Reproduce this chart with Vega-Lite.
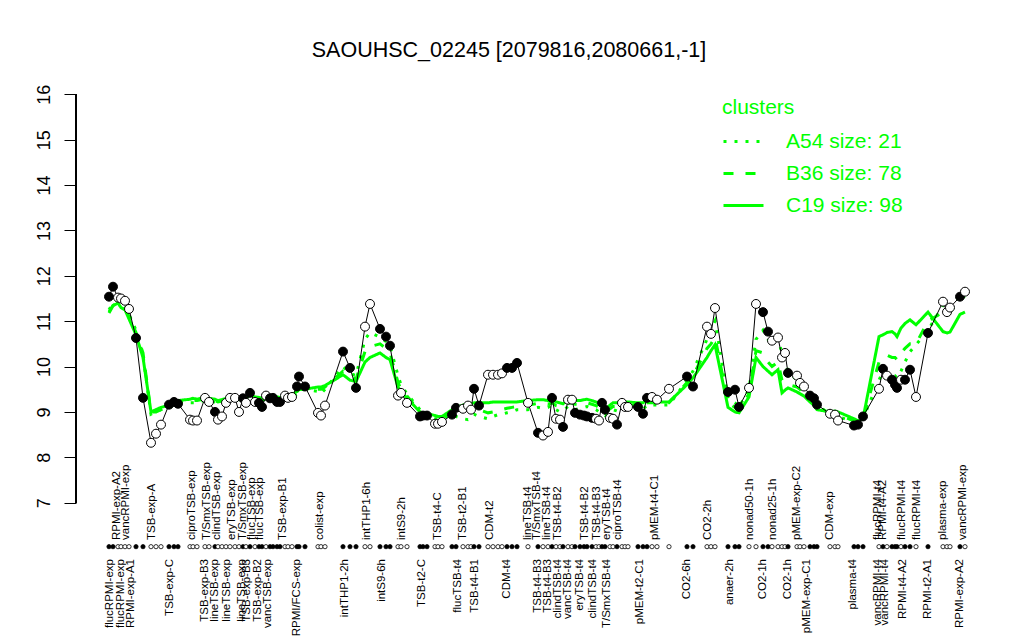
{
"$schema": "https://vega.github.io/schema/vega-lite/v6.json",
"width": 924, "height": 441,
"autosize": {"type": "none"},
"padding": {"left": 76, "top": 78, "right": 24, "bottom": 121},
"background": "white",
"config": {"view": {"stroke": null}, "font": "Liberation Sans"},
"title": {"text": "SAOUHSC_02245 [2079816,2080661,-1]", "fontSize": 21.5, "fontWeight": "normal", "font": "Liberation Sans", "color": "black", "anchor": "middle", "frame": "group", "dx": -29, "offset": 17},
"datasets": {
"samples": [
{"s":9,"v":11.54,"f":"F","a":11.25,"b":11.2,"c":11.18},
{"s":13,"v":11.76,"f":"F","a":11.4,"b":11.35,"c":11.34},
{"s":18,"v":11.52,"f":"O","a":11.45,"b":11.4,"c":11.4},
{"s":21,"v":11.5,"f":"O","a":11.4,"b":11.35,"c":11.3},
{"s":25,"v":11.45,"f":"O","a":11.3,"b":11.3,"c":11.25},
{"s":29,"v":11.27,"f":"O","a":11.15,"b":11.1,"c":11.05},
{"s":36,"v":10.63,"f":"F","a":10.8,"b":10.75,"c":10.7},
{"s":43,"v":9.31,"f":"F","a":10.25,"b":10.3,"c":10.2},
{"s":51,"v":8.32,"f":"O","a":8.95,"b":9.0,"c":9.0},
{"s":56,"v":8.52,"f":"O","a":9.0,"b":9.0,"c":9.05},
{"s":61,"v":8.72,"f":"O","a":9.05,"b":9.05,"c":9.1},
{"s":69,"v":9.16,"f":"F","a":9.1,"b":9.15,"c":9.15},
{"s":74,"v":9.22,"f":"F","a":9.15,"b":9.2,"c":9.2},
{"s":78,"v":9.18,"f":"F","a":9.2,"b":9.2,"c":9.25},
{"s":90,"v":8.83,"f":"O","a":9.2,"b":9.25,"c":9.28},
{"s":93,"v":8.81,"f":"O","a":9.2,"b":9.25,"c":9.3},
{"s":97,"v":8.81,"f":"O","a":9.2,"b":9.25,"c":9.28},
{"s":105,"v":9.31,"f":"O","a":9.26,"b":9.29,"c":9.32},
{"s":109,"v":9.22,"f":"O","a":9.24,"b":9.27,"c":9.3},
{"s":115,"v":9.0,"f":"F","a":9.22,"b":9.25,"c":9.28},
{"s":118,"v":8.83,"f":"O","a":9.19,"b":9.22,"c":9.25},
{"s":122,"v":8.9,"f":"O","a":9.21,"b":9.24,"c":9.27},
{"s":126,"v":9.2,"f":"O","a":9.24,"b":9.27,"c":9.3},
{"s":130,"v":9.31,"f":"O","a":9.27,"b":9.3,"c":9.33},
{"s":135,"v":9.31,"f":"O","a":9.29,"b":9.32,"c":9.35},
{"s":139,"v":9.0,"f":"O","a":9.24,"b":9.27,"c":9.3},
{"s":143,"v":9.3,"f":"F","a":9.27,"b":9.3,"c":9.33},
{"s":146,"v":9.2,"f":"O","a":9.24,"b":9.27,"c":9.3},
{"s":150,"v":9.42,"f":"F","a":9.32,"b":9.35,"c":9.38},
{"s":155,"v":9.22,"f":"O","a":9.27,"b":9.3,"c":9.33},
{"s":159,"v":9.2,"f":"F","a":9.26,"b":9.29,"c":9.32},
{"s":162,"v":9.11,"f":"F","a":9.24,"b":9.27,"c":9.3},
{"s":166,"v":9.36,"f":"O","a":9.3,"b":9.33,"c":9.36},
{"s":170,"v":9.3,"f":"F","a":9.29,"b":9.32,"c":9.35},
{"s":173,"v":9.31,"f":"F","a":9.29,"b":9.32,"c":9.35},
{"s":177,"v":9.22,"f":"F","a":9.27,"b":9.3,"c":9.33},
{"s":180,"v":9.22,"f":"F","a":9.26,"b":9.29,"c":9.32},
{"s":185,"v":9.36,"f":"O","a":9.29,"b":9.32,"c":9.35},
{"s":188,"v":9.31,"f":"O","a":9.29,"b":9.32,"c":9.35},
{"s":192,"v":9.33,"f":"O","a":9.32,"b":9.35,"c":9.38},
{"s":197,"v":9.56,"f":"F","a":9.4,"b":9.45,"c":9.45},
{"s":199,"v":9.78,"f":"F","a":9.45,"b":9.5,"c":9.5},
{"s":205,"v":9.56,"f":"F","a":9.5,"b":9.5,"c":9.5},
{"s":218,"v":8.98,"f":"O","a":9.45,"b":9.5,"c":9.55},
{"s":221,"v":8.92,"f":"O","a":9.4,"b":9.5,"c":9.55},
{"s":225,"v":9.14,"f":"O","a":9.5,"b":9.55,"c":9.58},
{"s":243,"v":10.33,"f":"F","a":10.0,"b":9.9,"c":9.82},
{"s":250,"v":9.97,"f":"F","a":9.85,"b":9.8,"c":9.7},
{"s":256,"v":9.53,"f":"F","a":9.8,"b":9.72,"c":9.67},
{"s":265,"v":10.88,"f":"O","a":10.6,"b":10.33,"c":10.1},
{"s":270,"v":11.38,"f":"O","a":10.75,"b":10.44,"c":10.2},
{"s":280,"v":10.83,"f":"F","a":10.65,"b":10.5,"c":10.3},
{"s":286,"v":10.66,"f":"F","a":10.55,"b":10.4,"c":10.2},
{"s":290,"v":10.46,"f":"F","a":10.45,"b":10.3,"c":10.15},
{"s":298,"v":9.36,"f":"O","a":9.8,"b":9.65,"c":9.55},
{"s":301,"v":9.42,"f":"O","a":9.6,"b":9.5,"c":9.45},
{"s":307,"v":9.2,"f":"O","a":9.4,"b":9.35,"c":9.3},
{"s":320,"v":8.9,"f":"F","a":9.05,"b":9.0,"c":9.0},
{"s":323,"v":8.92,"f":"F","a":8.9,"b":8.95,"c":8.98},
{"s":327,"v":8.92,"f":"F","a":8.9,"b":8.95,"c":8.97},
{"s":335,"v":8.74,"f":"O","a":8.85,"b":8.9,"c":8.92},
{"s":338,"v":8.74,"f":"O","a":8.85,"b":8.88,"c":8.9},
{"s":342,"v":8.78,"f":"O","a":8.85,"b":8.88,"c":8.9},
{"s":352,"v":8.94,"f":"F","a":8.95,"b":9.0,"c":9.05},
{"s":356,"v":9.09,"f":"F","a":8.9,"b":9.05,"c":9.1},
{"s":363,"v":9.07,"f":"O","a":8.85,"b":9.08,"c":9.15},
{"s":368,"v":9.14,"f":"O","a":8.83,"b":9.1,"c":9.18},
{"s":371,"v":9.05,"f":"O","a":8.85,"b":9.1,"c":9.18},
{"s":374,"v":9.51,"f":"F","a":8.95,"b":9.1,"c":9.2},
{"s":379,"v":9.14,"f":"F","a":8.9,"b":9.05,"c":9.2},
{"s":388,"v":9.82,"f":"O","a":8.85,"b":8.98,"c":9.2},
{"s":393,"v":9.82,"f":"O","a":8.9,"b":9.0,"c":9.22},
{"s":398,"v":9.82,"f":"O","a":8.94,"b":9.02,"c":9.22},
{"s":402,"v":9.85,"f":"O","a":8.95,"b":9.05,"c":9.22},
{"s":407,"v":9.97,"f":"F","a":8.98,"b":9.08,"c":9.22},
{"s":412,"v":9.97,"f":"F","a":9.0,"b":9.1,"c":9.22},
{"s":417,"v":10.08,"f":"F","a":9.05,"b":9.12,"c":9.22},
{"s":428,"v":9.2,"f":"O","a":9.05,"b":9.15,"c":9.25},
{"s":438,"v":8.54,"f":"F","a":9.1,"b":9.19,"c":9.27},
{"s":443,"v":8.48,"f":"O","a":9.08,"b":9.19,"c":9.27},
{"s":448,"v":8.56,"f":"O","a":9.1,"b":9.17,"c":9.25},
{"s":452,"v":9.31,"f":"F","a":9.15,"b":9.2,"c":9.28},
{"s":456,"v":8.85,"f":"O","a":9.05,"b":9.14,"c":9.22},
{"s":460,"v":8.83,"f":"O","a":9.0,"b":9.12,"c":9.2},
{"s":463,"v":8.67,"f":"F","a":9.02,"b":9.1,"c":9.18},
{"s":468,"v":9.27,"f":"O","a":9.12,"b":9.19,"c":9.27},
{"s":472,"v":9.27,"f":"O","a":9.1,"b":9.2,"c":9.28},
{"s":475,"v":8.98,"f":"F","a":9.05,"b":9.17,"c":9.25},
{"s":480,"v":8.94,"f":"F","a":9.08,"b":9.17,"c":9.25},
{"s":484,"v":8.92,"f":"F","a":9.1,"b":9.19,"c":9.27},
{"s":487,"v":8.9,"f":"F","a":9.12,"b":9.2,"c":9.28},
{"s":492,"v":8.87,"f":"F","a":9.08,"b":9.17,"c":9.25},
{"s":496,"v":8.85,"f":"O","a":9.05,"b":9.14,"c":9.22},
{"s":499,"v":8.81,"f":"O","a":9.0,"b":9.1,"c":9.18},
{"s":502,"v":9.2,"f":"F","a":8.98,"b":9.04,"c":9.12},
{"s":505,"v":9.05,"f":"F","a":8.92,"b":8.97,"c":9.05},
{"s":510,"v":8.87,"f":"O","a":9.0,"b":9.07,"c":9.15},
{"s":513,"v":8.85,"f":"O","a":9.05,"b":9.12,"c":9.2},
{"s":517,"v":8.72,"f":"F","a":9.02,"b":9.12,"c":9.2},
{"s":522,"v":9.2,"f":"O","a":9.1,"b":9.17,"c":9.25},
{"s":525,"v":9.11,"f":"O","a":9.08,"b":9.14,"c":9.22},
{"s":528,"v":9.11,"f":"O","a":9.05,"b":9.14,"c":9.22},
{"s":538,"v":9.11,"f":"F","a":9.1,"b":9.15,"c":9.2},
{"s":543,"v":8.96,"f":"F","a":9.05,"b":9.12,"c":9.2},
{"s":547,"v":9.31,"f":"F","a":9.15,"b":9.2,"c":9.27},
{"s":552,"v":9.33,"f":"O","a":9.15,"b":9.2,"c":9.25},
{"s":557,"v":9.27,"f":"O","a":9.15,"b":9.2,"c":9.22},
{"s":569,"v":9.51,"f":"O","a":9.15,"b":9.2,"c":9.22},
{"s":587,"v":9.78,"f":"F","a":9.7,"b":9.65,"c":9.6},
{"s":593,"v":9.56,"f":"F","a":9.9,"b":9.8,"c":9.75},
{"s":607,"v":10.88,"f":"O","a":10.6,"b":10.4,"c":10.2},
{"s":611,"v":10.72,"f":"O","a":10.8,"b":10.5,"c":10.35},
{"s":615,"v":11.29,"f":"O","a":11.0,"b":10.65,"c":10.48},
{"s":628,"v":9.44,"f":"F","a":9.3,"b":9.2,"c":9.1},
{"s":635,"v":9.49,"f":"F","a":9.2,"b":9.1,"c":9.0},
{"s":639,"v":9.11,"f":"F","a":9.1,"b":9.05,"c":8.98},
{"s":649,"v":9.53,"f":"O","a":9.5,"b":9.4,"c":9.33},
{"s":656,"v":11.38,"f":"O","a":10.6,"b":10.35,"c":10.2},
{"s":663,"v":11.2,"f":"F","a":10.8,"b":10.3,"c":10.0},
{"s":668,"v":10.77,"f":"F","a":10.6,"b":10.1,"c":9.9},
{"s":672,"v":10.57,"f":"O","a":10.5,"b":10.0,"c":9.82},
{"s":678,"v":10.64,"f":"O","a":10.6,"b":10.1,"c":9.93},
{"s":682,"v":10.2,"f":"O","a":10.3,"b":9.7,"c":9.42},
{"s":685,"v":10.3,"f":"O","a":10.1,"b":9.65,"c":9.48},
{"s":688,"v":9.86,"f":"F","a":9.9,"b":9.6,"c":9.53},
{"s":697,"v":9.8,"f":"O","a":9.7,"b":9.55,"c":9.44},
{"s":700,"v":9.64,"f":"O","a":9.6,"b":9.5,"c":9.4},
{"s":704,"v":9.56,"f":"O","a":9.5,"b":9.4,"c":9.35},
{"s":710,"v":9.36,"f":"F","a":9.35,"b":9.3,"c":9.22},
{"s":714,"v":9.3,"f":"F","a":9.25,"b":9.2,"c":9.15},
{"s":717,"v":9.16,"f":"F","a":9.15,"b":9.1,"c":9.05},
{"s":730,"v":8.96,"f":"O","a":8.95,"b":9.0,"c":9.0},
{"s":735,"v":8.94,"f":"O","a":8.95,"b":9.0,"c":9.02},
{"s":738,"v":8.81,"f":"O","a":8.9,"b":8.95,"c":9.0},
{"s":754,"v":8.7,"f":"F","a":8.78,"b":8.8,"c":8.85},
{"s":758,"v":8.72,"f":"F","a":8.75,"b":8.78,"c":8.8},
{"s":763,"v":8.9,"f":"F","a":8.85,"b":8.85,"c":8.85},
{"s":779,"v":9.51,"f":"O","a":9.7,"b":10.1,"c":10.66},
{"s":783,"v":9.95,"f":"F","a":9.9,"b":10.2,"c":10.7},
{"s":787,"v":9.8,"f":"O","a":9.85,"b":10.25,"c":10.75},
{"s":792,"v":9.71,"f":"F","a":9.8,"b":10.2,"c":10.77},
{"s":795,"v":9.6,"f":"F","a":9.8,"b":10.2,"c":10.72},
{"s":797,"v":9.53,"f":"F","a":9.75,"b":10.15,"c":10.66},
{"s":801,"v":9.71,"f":"O","a":9.9,"b":10.3,"c":10.85},
{"s":805,"v":9.71,"f":"F","a":10.1,"b":10.4,"c":10.95},
{"s":810,"v":9.93,"f":"F","a":10.33,"b":10.5,"c":11.03},
{"s":816,"v":9.33,"f":"O","a":10.48,"b":10.5,"c":10.92},
{"s":828,"v":10.74,"f":"F","a":10.8,"b":11.0,"c":11.2},
{"s":843,"v":11.43,"f":"O","a":11.35,"b":11.2,"c":10.77},
{"s":847,"v":11.2,"f":"O","a":11.25,"b":11.1,"c":10.74},
{"s":850,"v":11.3,"f":"O","a":11.3,"b":11.2,"c":10.76},
{"s":860,"v":11.54,"f":"F","a":11.55,"b":11.5,"c":11.15},
{"s":865,"v":11.65,"f":"O","a":11.6,"b":11.55,"c":11.2}
],
"labs": [
{"s":17,"t":"RPMI-exp-A2","r":"t"},{"s":26,"t":"vancRPMI-exp","r":"t"},{"s":52,"t":"TSB-exp-A","r":"t"},{"s":92,"t":"ciproTSB-exp","r":"t"},{"s":107,"t":"T/SmxTSB-exp","r":"t"},{"s":117,"t":"clindTSB-exp","r":"t"},{"s":132,"t":"eryTSB-exp","r":"t"},{"s":143,"t":"T/SmxTSB-exp","r":"t"},{"s":152,"t":"flucTSB-exp","r":"t"},{"s":160,"t":"flucTSB-exp","r":"t"},{"s":183,"t":"TSB-exp-B1","r":"t"},{"s":220,"t":"colist-exp","r":"t"},{"s":267,"t":"intTHP1-6h","r":"t"},{"s":302,"t":"intS9-2h","r":"t"},{"s":338,"t":"TSB-t4-C","r":"t"},{"s":363,"t":"TSB-t2-B1","r":"t"},{"s":390,"t":"CDM-t2","r":"t"},{"s":428,"t":"lineTSB-t4","r":"t"},{"s":437,"t":"T/SmxTSB-t4","r":"t"},{"s":447,"t":"lineTSB-t4","r":"t"},{"s":458,"t":"TSB-t4-B2","r":"t"},{"s":485,"t":"TSB-t4-B2","r":"t"},{"s":497,"t":"TSB-t4-B3","r":"t"},{"s":507,"t":"eryTSB-t4","r":"t"},{"s":518,"t":"ciproTSB-t4","r":"t"},{"s":555,"t":"pMEM-t4-C1","r":"t"},{"s":608,"t":"CO2-2h","r":"t"},{"s":650,"t":"nonad50-1h","r":"t"},{"s":673,"t":"nonad25-1h","r":"t"},{"s":697,"t":"pMEM-exp-C2","r":"t"},{"s":730,"t":"CDM-exp","r":"t"},{"s":778,"t":"flucRPMI-t4","r":"t"},{"s":783,"t":"RPMI-t4-A2","r":"t"},{"s":802,"t":"flucRPMI-t4","r":"t"},{"s":817,"t":"flucRPMI-t4","r":"t"},{"s":843,"t":"plasma-exp","r":"t"},{"s":863,"t":"vancRPMI-exp","r":"t"},
{"s":10,"t":"flucRPMI-exp","r":"b"},{"s":21,"t":"flucRPMI-exp","r":"b"},{"s":31,"t":"RPMI-exp-A1","r":"b"},{"s":70,"t":"TSB-exp-C","r":"b"},{"s":105,"t":"TSB-exp-B3","r":"b"},{"s":115,"t":"lineTSB-exp","r":"b"},{"s":127,"t":"lineTSB-exp","r":"b"},{"s":142,"t":"lineTSB-exp","r":"b"},{"s":147,"t":"TSB-exp-B3","r":"b"},{"s":158,"t":"TSB-exp-B2","r":"b"},{"s":168,"t":"vancTSB-exp","r":"b"},{"s":197,"t":"RPMI/FCS-exp","r":"b"},{"s":245,"t":"intTHP1-2h","r":"b"},{"s":282,"t":"intS9-6h","r":"b"},{"s":322,"t":"TSB-t2-C","r":"b"},{"s":358,"t":"flucTSB-t4","r":"b"},{"s":375,"t":"TSB-t4-B1","r":"b"},{"s":407,"t":"CDM-t4","r":"b"},{"s":438,"t":"TSB-t4-B3","r":"b"},{"s":448,"t":"TSB-t4-B3","r":"b"},{"s":458,"t":"clindTSB-t4","r":"b"},{"s":468,"t":"vancTSB-t4","r":"b"},{"s":480,"t":"eryTSB-t4","r":"b"},{"s":493,"t":"clindTSB-t4","r":"b"},{"s":507,"t":"T/SmxTSB-t4","r":"b"},{"s":540,"t":"pMEM-t2-C1","r":"b"},{"s":587,"t":"CO2-6h","r":"b"},{"s":630,"t":"anaer-2h","r":"b"},{"s":663,"t":"CO2-1h","r":"b"},{"s":688,"t":"CO2-1h","r":"b"},{"s":707,"t":"pMEM-exp-C1","r":"b"},{"s":753,"t":"plasma-t4","r":"b"},{"s":778,"t":"vancRPMI-t4","r":"b"},{"s":785,"t":"vancRPMI-t4","r":"b"},{"s":803,"t":"RPMI-t4-A2","r":"b"},{"s":828,"t":"RPMI-t2-A1","r":"b"},{"s":860,"t":"RPMI-exp-A2","r":"b"}
]
},
"layer": [
{
"data": {"name": "samples"},
"transform": [{"fold": ["a", "b", "c"], "as": ["cl", "val"]}],
"mark": {"type": "line", "color": "#00ff00", "strokeWidth": 3},
"encoding": {
"x": {"field": "s", "type": "quantitative", "scale": {"domain": [-24, 900], "nice": false, "zero": false}, "axis": null},
"y": {"field": "val", "type": "quantitative", "scale": {"domain": [6.64, 16.36], "nice": false, "zero": false}, "title": null,
"axis": {"values": [7,8,9,10,11,12,13,14,15,16], "domain": false, "grid": false, "tickSize": 12, "tickColor": "black", "tickWidth": 1, "labelAngle": 270, "labelAlign": "center", "labelBaseline": "alphabetic", "labelPadding": 15, "labelFontSize": 18, "labelFont": "Liberation Sans", "labelColor": "black", "labelFlush": false}},
"strokeDash": {"field": "cl", "type": "nominal", "scale": {"domain": ["a", "b", "c"], "range": [[3, 8], [10, 12], [1, 0]]},
"legend": {"title": "clusters", "orient": "none", "legendX": 646, "legendY": 19, "labelExpr": "datum.label == 'a' ? 'A54 size: 21' : datum.label == 'b' ? 'B36 size: 78' : 'C19 size: 98'", "titleColor": "#00ff00", "labelColor": "#00ff00", "titleFontSize": 21, "labelFontSize": 21, "titleFont": "Liberation Sans", "labelFont": "Liberation Sans", "titleFontWeight": "normal", "symbolType": "stroke", "symbolStrokeColor": "#00ff00", "symbolStrokeWidth": 3, "symbolSize": 1600, "rowPadding": -9, "labelOffset": 21, "titlePadding": 2}}
}
},
{
"data": {"name": "samples"},
"mark": {"type": "rule", "color": "black", "strokeWidth": 1},
"encoding": {
"x": {"datum": -24, "type": "quantitative"},
"y": {"datum": 7, "type": "quantitative", "title": null},
"y2": {"datum": 16}
}
},
{
"data": {"name": "samples"},
"mark": {"type": "line", "color": "black", "strokeWidth": 1},
"encoding": {
"x": {"field": "s", "type": "quantitative"},
"y": {"field": "v", "type": "quantitative", "title": null}
}
},
{
"data": {"name": "samples"},
"mark": {"type": "circle", "size": 80, "stroke": "black", "strokeWidth": 1, "opacity": 1},
"encoding": {
"x": {"field": "s", "type": "quantitative"},
"y": {"field": "v", "type": "quantitative", "title": null},
"fill": {"field": "f", "type": "nominal", "scale": {"domain": ["F", "O"], "range": ["black", "white"]}, "legend": null}
}
},
{
"data": {"name": "samples"},
"mark": {"type": "circle", "size": 18, "stroke": "black", "strokeWidth": 0.8, "opacity": 1},
"encoding": {
"x": {"field": "s", "type": "quantitative"},
"y": {"datum": 6.03, "type": "quantitative", "title": null},
"fill": {"field": "f", "type": "nominal", "legend": null}
}
},
{
"data": {"name": "labs"},
"transform": [{"filter": "datum.r == 't'"}],
"mark": {"type": "text", "angle": 270, "align": "left", "baseline": "middle", "fontSize": 11.5, "font": "Liberation Sans", "color": "black"},
"encoding": {
"x": {"field": "s", "type": "quantitative"},
"y": {"datum": 6.177, "type": "quantitative", "title": null},
"text": {"field": "t"}
}
},
{
"data": {"name": "labs"},
"transform": [{"filter": "datum.r == 'b'"}],
"mark": {"type": "text", "angle": 270, "align": "right", "baseline": "middle", "fontSize": 11.5, "font": "Liberation Sans", "color": "black"},
"encoding": {
"x": {"field": "s", "type": "quantitative"},
"y": {"datum": 5.758, "type": "quantitative", "title": null},
"text": {"field": "t"}
}
}
]
}
